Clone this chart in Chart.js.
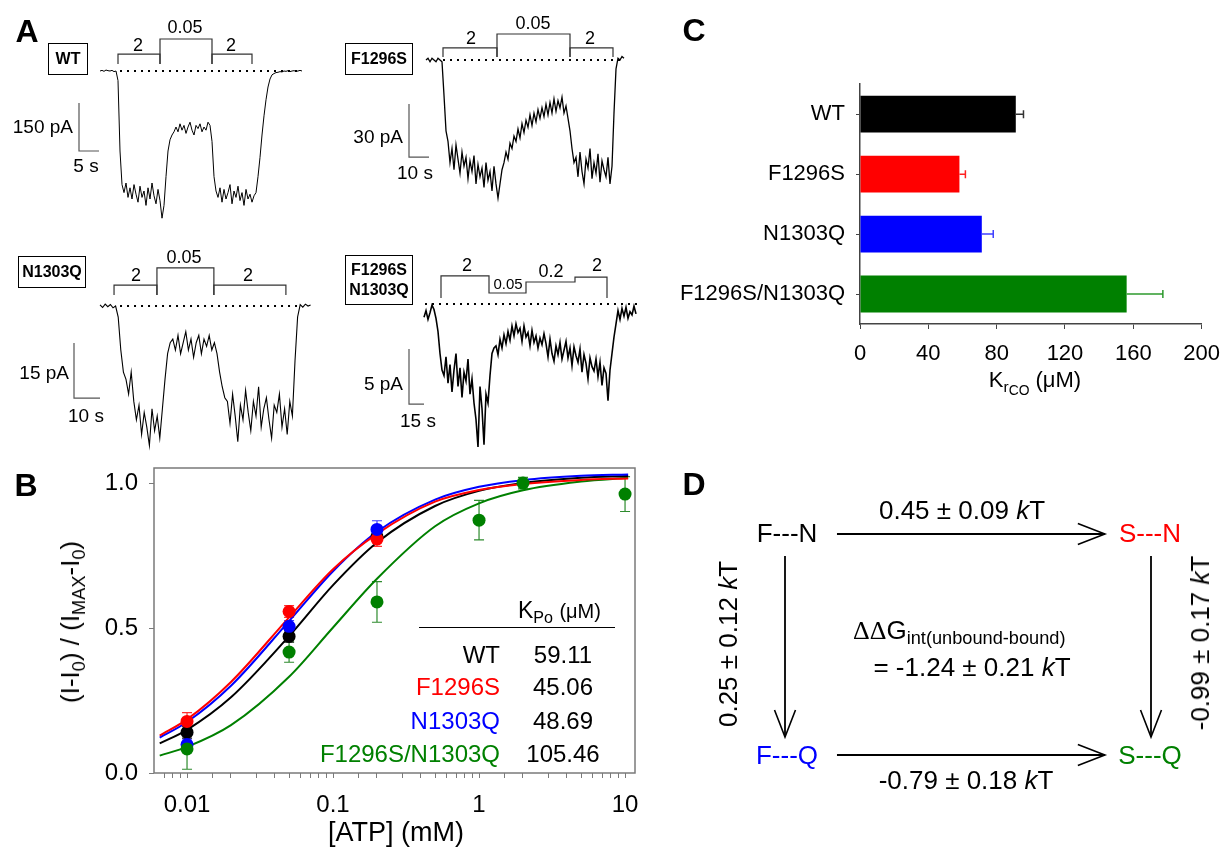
<!DOCTYPE html>
<html>
<head>
<meta charset="utf-8">
<title>CFTR F1296S / N1303Q</title>
<script src="https://cdn.jsdelivr.net/npm/chart.js@4.4.1/dist/chart.umd.min.js"></script>
<style>
  html, body { margin: 0; padding: 0; background: #fff; }
  #fig { position: relative; width: 1232px; height: 852px; overflow: hidden;
         font-family: "Liberation Sans", Arial, sans-serif; color: #000; }
  #fig canvas { position: absolute; }
  .t { position: absolute; white-space: nowrap; line-height: 1; }
  .sb { font-size: 0.7em; vertical-align: -0.32em; line-height: 0; }
  .sb2 { font-size: 0.9em; vertical-align: -0.2em; line-height: 0; }
  .box { position: absolute; box-sizing: border-box; border: 1.5px solid #000; display: flex;
         align-items: center; justify-content: center; text-align: center;
         font-weight: bold; font-size: 16px; line-height: 20px; }
  .letter { position: absolute; font-weight: bold; font-size: 32px; line-height: 1;
            transform: translate(-50%, -50%); }
</style>
</head>
<body>
<div id="fig">
  <canvas id="trWT" width="330" height="230" style="left:0;top:0"></canvas>
  <canvas id="trF" width="330" height="230" style="left:330px;top:0"></canvas>
  <canvas id="trN" width="330" height="230" style="left:0;top:230px"></canvas>
  <canvas id="trFN" width="330" height="230" style="left:330px;top:230px"></canvas>
  <canvas id="doseChart" width="660" height="412" style="left:0;top:440px"></canvas>
  <canvas id="kcoChart" width="572" height="340" style="left:660px;top:60px"></canvas>
  <canvas id="cycleChart" width="572" height="412" style="left:660px;top:440px"></canvas>
</div>
<script>
// ---------- panel A: current traces (pA), one sample every step seconds ----------
var traceWT = [0, 2, -1, 3, 1, 0, 2, -2, 0,
  -30, -250, -355,
  -380, -350, -395, -365, -400, -355, -385, -410, -360, -395, -375, -420, -365, -400, -350, -390, -415, -370, -405, -460, -420,
  -330, -250, -215, -200, -190,
  -175, -190, -165, -185, -170, -195, -175, -160, -185, -200, -170, -180, -165, -190, -175, -185, -160, -170,
  -220, -330, -375,
  -395, -365, -410, -370, -400, -380, -355, -415, -375, -395, -360, -405, -380, -420, -370, -400, -385, -410, -390,
  -380, -330, -270, -200, -140, -90, -50, -25, -12,
  -8, -5, -4, -2, -3, 0, -1, 1, -2, 0, 1, -1, 0, 2, 0];
var traceF1296S = [0, 1, -1, 1, 0, -1, 1, 0, -1,
  -20, -40,
  -46, -58, -50, -62, -48, -56, -64, -52, -60, -55, -67, -57, -63, -54, -70, -59, -66, -61, -72, -58, -68, -63, -74, -60, -70, -78,
  -70, -62, -58, -52, -56, -47, -50, -43, -46, -39, -44, -36, -41, -34, -38, -31, -37, -30, -35, -28, -33, -27, -32, -25, -31, -24, -30, -22, -29, -23, -27, -21, -30, -26, -33,
  -40, -50, -58,
  -55, -66, -52, -63, -70, -56, -61, -50, -67, -58, -64, -53, -69, -57, -62, -66, -55, -70, -60,
  -30, -5,
  1, 0, 2, 1];
var traceN1303Q = [0.3, -0.4, 0.5, -0.2, 0.4, -0.5, 0,
  -3, -12, -18,
  -20, -24, -18, -26,
  -31, -27, -35, -29, -33, -38, -28, -34, -30, -36,
  -28, -20, -13, -10,
  -9, -12, -8, -13, -10, -7, -12, -9, -14, -10, -8, -13, -9, -11, -8, -12, -10,
  -13, -18, -22, -25,
  -26, -32, -24, -30, -37, -27, -31, -23, -29, -34, -26, -30, -22, -33, -28, -25, -31, -36, -27, -29, -24, -33, -28, -35, -26, -30,
  -15, -3,
  0.4, -0.3, 0.5, 0, 0.3];
var traceDouble = [-1.2, -0.6, -1.4, -0.8, -0.1, -0.5, -1.3,
  -2.5, -4.5, -6.0,
  -6.5, -4.8, -7.2, -5.5, -8.0, -6.0, -4.5, -7.5, -5.8, -8.5, -6.2, -7.0, -5.0, -8.2, -6.8, -9.0, -10.5, -13.0, -7.5, -9.5, -12.8, -8.2, -9.0, -6.5,
  -4.5, -4.0,
  -3.8, -4.6, -3.2, -4.0, -2.8, -3.6, -2.5, -3.3, -2.0, -2.9, -1.8, -2.6,
  -2.2, -3.4, -2.0, -3.0, -2.6, -3.8, -2.4, -3.5, -2.9, -4.0, -3.1, -3.7, -2.7,
  -3.6, -4.8, -3.2, -4.5, -5.2, -3.8, -4.6, -3.5, -5.0, -4.2, -3.4, -4.9, -4.0, -5.6, -3.9, -4.7, -5.3, -4.1, -6.2, -4.6, -5.4, -6.8, -4.9, -5.7, -6.1, -5.0, -6.6, -5.3, -7.4, -5.8, -6.3, -8.8,
  -6.0, -4.5, -3.0, -1.8,
  -0.6, -1.4, -0.4, -1.1, -0.3, -1.3, -0.7, -1.0, -0.2, -0.9];
var stepWT = 0.5, stepF1296S = 1, stepN1303Q = 1, stepDouble = 2;

// ATP application brackets [s, pA] and zero-current dotted lines [from s, to s]
var bracketsWT = [[[4.5, 22], [4.5, 53], [15, 53], [15, 22]],
                  [[15, 22], [15, 100], [28, 100], [28, 22]],
                  [[28, 22], [28, 53], [38, 53], [38, 22]]];
var bracketsF1296S = [[[8.5, 1.7], [8.5, 6.8], [35.5, 6.8], [35.5, 1.7]],
                      [[35.5, 1.7], [35.5, 14.7], [72, 14.7], [72, 1.7]],
                      [[72, 1.7], [72, 6.8], [93.5, 6.8], [93.5, 1.7]]];
var bracketsN1303Q = [[[5.4, 3.0], [5.4, 5.7], [21.9, 5.7], [21.9, 3.0]],
                      [[21.9, 3.0], [21.9, 10.4], [43.8, 10.4], [43.8, 3.0]],
                      [[43.8, 3.0], [43.8, 5.7], [71.5, 5.7], [71.5, 3.0]]];
var bracketsDouble = [[[17, 0.55], [17, 2.55], [65, 2.55], [65, 1.0], [102, 1.0], [102, 2.0],
                       [151, 2.0], [151, 2.45], [183, 2.45], [183, 0.55]]];
var zeroWT = [5, 50.5], zeroF1296S = [8.5, 97], zeroN1303Q = [7.7, 77], zeroDouble = [1, 213];
// scale bars: 150 pA / 5 s, 30 pA / 10 s, 15 pA / 10 s, 5 pA / 15 s
var barWT = [[-5.25, -100], [-5.25, -250], [-0.25, -250]];
var barF1296S = [[-8.5, -24.9], [-8.5, -54.9], [1.5, -54.9]];
var barN1303Q = [[-10, -10.1], [-10, -25.1], [0, -25.1]];
var barDouble = [[-15, -4.1], [-15, -9.1], [0, -9.1]];

// ---------- panel B: normalized current vs [ATP] ----------
var atpConc = [0.01, 0.05, 0.2];
var atpConcDouble = [0.01, 0.05, 0.2, 1, 2, 10];
var respWT = [0.14, 0.471, 0.815];
var respF1296S = [0.178, 0.557, 0.807];
var respN1303Q = [0.098, 0.506, 0.84];
var respDouble = [0.083, 0.417, 0.59, 0.872, 1.0, 0.962];
var semWT = [0.02, 0.02, 0.02];
var semF1296S = [0.03, 0.02, 0.025];
var semN1303Q = [0.02, 0.02, 0.03];
var semDouble = [0.07, 0.035, 0.07, 0.068, 0.02, 0.06];
var fitConc = [0.0065, 0.01, 0.02, 0.05, 0.1, 0.2, 0.5, 1, 2, 5, 10.5];
var fitWT = [0.102, 0.149, 0.261, 0.472, 0.648, 0.795, 0.921, 0.973, 1.0, 1.018, 1.024];
var fitF1296S = [0.129, 0.185, 0.314, 0.537, 0.703, 0.825, 0.936, 0.976, 0.997, 1.011, 1.016];
var fitN1303Q = [0.122, 0.176, 0.301, 0.524, 0.696, 0.832, 0.943, 0.987, 1.01, 1.025, 1.03];
var fitDouble = [0.06, 0.09, 0.165, 0.332, 0.502, 0.67, 0.851, 0.93, 0.975, 1.005, 1.018];
var atpTicks = [0.01, 0.1, 1, 10];
var atpTickLabels = ['0.01', '0.1', '1', '10'];
var kpoNames = ['WT', 'F1296S', 'N1303Q', 'F1296S/N1303Q'];
var kpoValues = ['59.11', '45.06', '48.69', '105.46'];

// ---------- panel C: K_rCO ----------
var kcoLabels = ['WT', 'F1296S', 'N1303Q', 'F1296S/N1303Q'];
var kcoValues = [91.2, 58.2, 71.3, 156.1];
var kcoErrors = [4.5, 3.5, 6.7, 21.2];

var colBlack = '#000000', colRed = '#ff0000', colBlue = '#0000ff', colGreen = '#008000';

Chart.defaults.font.family = "'Liberation Sans', Arial, sans-serif";
Chart.defaults.color = '#000';
Chart.defaults.animation = false;
Chart.defaults.plugins.legend.display = false;
Chart.defaults.plugins.tooltip.enabled = false;

var fig = document.getElementById('fig');

function addText(html, x, y, size, anchor, opts) {
  var d = document.createElement('div');
  d.className = 't';
  d.innerHTML = html;
  d.style.left = x + 'px';
  d.style.top = y + 'px';
  d.style.fontSize = size + 'px';
  var tr = {c: 'translate(-50%,-50%)', l: 'translate(0,-50%)', r: 'translate(-100%,-50%)'}[anchor || 'c'];
  opts = opts || {};
  if (opts.rotate) tr += ' rotate(' + opts.rotate + 'deg)';
  if (opts.color) d.style.color = opts.color;
  d.style.transform = tr;
  fig.appendChild(d);
}

function addBox(html, x, y, w, h) {
  var d = document.createElement('div');
  d.className = 'box';
  d.innerHTML = html;
  d.style.left = x + 'px';
  d.style.top = y + 'px';
  d.style.width = w + 'px';
  d.style.height = h + 'px';
  fig.appendChild(d);
}

function toPts(arr) {
  return arr.map(function(p) { return {x: p[0], y: p[1]}; });
}

function lineSet(points, color, width, dash) {
  return {data: points, showLine: true, borderColor: color, borderWidth: width,
          borderDash: dash || [], pointRadius: 0, tension: 0, fill: false};
}

// geo: page position of t=0 / 0 pA, pixels per s and per pA, and canvas box
function traceChart(id, geo, values, step, zero, brackets, bar) {
  var pts = values.map(function(v, i) { return {x: i * step, y: v}; });
  var sets = [lineSet(pts, '#000', geo.lw)];
  sets.push(lineSet([{x: zero[0], y: 0}, {x: zero[1], y: 0}], '#000', 2, [2, 5]));
  brackets.forEach(function(b) { sets.push(lineSet(toPts(b), '#333', 1.2)); });
  sets.push(lineSet(toPts(bar), '#555', 1.2));
  new Chart(document.getElementById(id), {
    type: 'scatter',
    data: {datasets: sets},
    options: {
      responsive: false,
      events: [],
      layout: {padding: 0},
      scales: {
        x: {type: 'linear', display: false,
            min: (geo.left - geo.x0) / geo.pxS, max: (geo.left + geo.w - geo.x0) / geo.pxS},
        y: {type: 'linear', display: false,
            min: (geo.y0 - geo.top - geo.h) / geo.pxA, max: (geo.y0 - geo.top) / geo.pxA}
      }
    }
  });
}

traceChart('trWT', {x0: 100, y0: 71, pxS: 4, pxA: 0.32, left: 0, top: 0, w: 330, h: 230, lw: 1},
  traceWT, stepWT, zeroWT, bracketsWT, barWT);
traceChart('trF', {x0: 426, y0: 60, pxS: 2, pxA: 1.77, left: 330, top: 0, w: 330, h: 230, lw: 1.3},
  traceF1296S, stepF1296S, zeroF1296S, bracketsF1296S, barF1296S);
traceChart('trN', {x0: 100, y0: 306, pxS: 2.6, pxA: 3.67, left: 0, top: 230, w: 330, h: 230, lw: 1.1},
  traceN1303Q, stepN1303Q, zeroN1303Q, bracketsN1303Q, barN1303Q);
traceChart('trFN', {x0: 424, y0: 304, pxS: 1, pxA: 11, left: 330, top: 230, w: 330, h: 230, lw: 1.6},
  traceDouble, stepDouble, zeroDouble, bracketsDouble, barDouble);

// panel A text
addBox('WT', 48, 43, 40, 32);
addBox('F1296S', 345, 43, 68, 32);
addBox('N1303Q', 18, 256, 68, 32);
addBox('F1296S<br>N1303Q', 345, 255, 68, 50);
addText('2', 138, 45, 18); addText('0.05', 185, 27, 18); addText('2', 231, 45, 18);
addText('2', 471, 38, 18); addText('0.05', 533, 23, 18); addText('2', 590, 38, 18);
addText('2', 136, 275, 18); addText('0.05', 184, 257, 18); addText('2', 248, 275, 18);
addText('2', 467, 265, 18); addText('0.05', 508, 283, 15); addText('0.2', 551, 271, 18); addText('2', 597, 265, 18);
addText('150 pA', 73, 126, 19, 'r'); addText('5 s', 86, 165, 19);
addText('30 pA', 403, 136, 19, 'r'); addText('10 s', 415, 172, 19);
addText('15 pA', 69, 372, 19, 'r'); addText('10 s', 86, 415, 19);
addText('5 pA', 403, 383, 19, 'r'); addText('15 s', 418, 420, 19);

// ---------- panel B chart ----------
var B_XMIN = 0.00594, B_XMAX = 11.7;

function xyPairs(xs, ys) {
  return xs.map(function(x, i) { return {x: x, y: ys[i]}; });
}

function pointSet(xs, ys, sem, color, errColor) {
  return {data: xyPairs(xs, ys), showLine: false, pointRadius: 6.5, pointBorderWidth: 0,
          pointBackgroundColor: color, backgroundColor: color, borderColor: color,
          errors: sem, errorColor: errColor};
}

function fitSet(ys, color) {
  return {data: xyPairs(fitConc, ys), showLine: true, borderColor: color, borderWidth: 2,
          pointRadius: 0, cubicInterpolationMode: 'monotone', fill: false};
}

var errorBarPlugin = {
  id: 'errorBars',
  beforeDatasetsDraw: function(chart) {
    var ctx = chart.ctx;
    var ys = chart.scales.y;
    chart.data.datasets.forEach(function(ds, i) {
      if (!ds.errors) return;
      var meta = chart.getDatasetMeta(i);
      ctx.save();
      ctx.strokeStyle = ds.errorColor;
      ctx.lineWidth = 1.2;
      meta.data.forEach(function(pt, j) {
        var v = ds.data[j].y, e = ds.errors[j];
        var y1 = ys.getPixelForValue(v + e), y2 = ys.getPixelForValue(v - e);
        ctx.beginPath();
        ctx.moveTo(pt.x, y1); ctx.lineTo(pt.x, y2);
        ctx.moveTo(pt.x - 5, y1); ctx.lineTo(pt.x + 5, y1);
        ctx.moveTo(pt.x - 5, y2); ctx.lineTo(pt.x + 5, y2);
        ctx.stroke();
      });
      ctx.restore();
    });
  }
};

var framePlugin = {
  id: 'frame',
  beforeDatasetsDraw: function(chart) {
    var a = chart.chartArea, ctx = chart.ctx;
    ctx.save();
    ctx.strokeStyle = '#7a7a7a';
    ctx.lineWidth = 1.5;
    ctx.strokeRect(a.left, a.top, a.right - a.left, a.bottom - a.top);
    ctx.restore();
  }
};

new Chart(document.getElementById('doseChart'), {
  type: 'scatter',
  data: {datasets: [
    pointSet(atpConcDouble, respDouble, semDouble, colGreen, '#2e8b2e'),
    pointSet(atpConc, respN1303Q, semN1303Q, colBlue, '#3a3aff'),
    pointSet(atpConc, respF1296S, semF1296S, colRed, '#ff3030'),
    pointSet(atpConc, respWT, semWT, colBlack, '#333'),
    fitSet(fitF1296S, colRed),
    fitSet(fitN1303Q, colBlue),
    fitSet(fitWT, colBlack),
    fitSet(fitDouble, colGreen)
  ]},
  options: {
    responsive: false,
    events: [],
    layout: {padding: {top: 28, right: 25, left: 0, bottom: 0}},
    scales: {
      x: {
        type: 'logarithmic', min: B_XMIN, max: B_XMAX,
        afterFit: function(s) { s.height = 79; },
        border: {display: false},
        grid: {drawOnChartArea: false, drawTicks: true, tickLength: 5,
               tickColor: function(c) {
                 if (!c.tick) return '#7a7a7a';
                 return (c.tick.value === B_XMIN || c.tick.value === B_XMAX) ? 'rgba(0,0,0,0)' : '#7a7a7a';
               }},
        ticks: {
          autoSkip: false, maxRotation: 0, minRotation: 0, padding: 13, font: {size: 24},
          callback: function(v) {
            for (var i = 0; i < atpTicks.length; i++) {
              if (Math.abs(v - atpTicks[i]) < atpTicks[i] * 1e-6) return atpTickLabels[i];
            }
            return '';
          }
        }
      },
      y: {
        min: 0, max: 1.052,
        afterFit: function(s) { s.width = 154; },
        border: {display: false},
        grid: {drawOnChartArea: false, tickLength: 5, tickColor: '#7a7a7a'},
        ticks: {stepSize: 0.5, includeBounds: false, padding: 11, font: {size: 24},
                callback: function(v) { return v.toFixed(1); }}
      }
    }
  },
  plugins: [framePlugin, errorBarPlugin]
});

addText('(I-I<span class="sb">0</span>) / (I<span class="sb">MAX</span>-I<span class="sb">0</span>)', 70, 622, 26, 'c', {rotate: -90});
addText('[ATP] (mM)', 396, 832, 27);
addText('K<span class="sb">Po</span> <span style="font-size:20px">(μM)</span>', 518, 610, 23, 'l');
var rule = document.createElement('div');
rule.style.cssText = 'position:absolute;left:419px;top:627px;width:196px;height:0;border-top:1.5px solid #000;';
fig.appendChild(rule);
var kpoColors = [colBlack, colRed, colBlue, colGreen];
var kpoRowY = [655, 687, 721, 754];
kpoNames.forEach(function(n, i) {
  addText(n, 500, kpoRowY[i], 24, 'r', {color: kpoColors[i]});
  addText(kpoValues[i], 563, kpoRowY[i], 24, 'c');
});

// ---------- panel C chart ----------
var kcoColors = [colBlack, colRed, colBlue, colGreen];
var kcoErrColors = ['#333', '#ff2020', '#4040ff', '#2e9a2e'];

var barErrorPlugin = {
  id: 'barErrors',
  afterDatasetsDraw: function(chart) {
    var ctx = chart.ctx, xs = chart.scales.x;
    var meta = chart.getDatasetMeta(0);
    meta.data.forEach(function(bar, j) {
      var x0 = xs.getPixelForValue(kcoValues[j]);
      var x1 = xs.getPixelForValue(kcoValues[j] + kcoErrors[j]);
      ctx.save();
      ctx.strokeStyle = kcoErrColors[j];
      ctx.lineWidth = 1.5;
      ctx.beginPath();
      ctx.moveTo(x0, bar.y); ctx.lineTo(x1, bar.y);
      ctx.moveTo(x1, bar.y - 4); ctx.lineTo(x1, bar.y + 4);
      ctx.stroke();
      ctx.restore();
    });
  }
};

new Chart(document.getElementById('kcoChart'), {
  type: 'bar',
  data: {labels: kcoLabels, datasets: [{data: kcoValues, backgroundColor: kcoColors,
         borderWidth: 0, barPercentage: 0.615, categoryPercentage: 1}]},
  options: {
    indexAxis: 'y',
    responsive: false,
    events: [],
    layout: {padding: {top: 23, right: 21, left: 0, bottom: 0}},
    scales: {
      x: {
        min: 0, max: 200,
        afterFit: function(s) { s.height = 76; },
        border: {color: '#444', width: 1.5},
        grid: {drawOnChartArea: false, tickLength: 5, tickColor: '#444'},
        ticks: {stepSize: 40, padding: 12, font: {size: 22}, maxRotation: 0}
      },
      y: {
        afterFit: function(s) { s.width = 200; },
        border: {color: '#444', width: 1.5},
        grid: {drawOnChartArea: false, offset: false, tickLength: 4, tickColor: '#444'},
        ticks: {padding: 11, font: {size: 22}}
      }
    }
  },
  plugins: [barErrorPlugin]
});

addText('K<span class="sb">r<span class="sb2">CO</span></span> (μM)', 1035, 380, 22);

// ---------- panel D: thermodynamic cycle ----------
// node grid: column 0/1 and row 0/1; arrows run between nodes
var cycleArrows = [
  [[0.142, 0], [0.874, 0]],
  [[0.142, 1], [0.874, 1]],
  [[0, 0.1], [0, 0.919]],
  [[1, 0.1], [1, 0.919]]
];
var dGeo = {col0: 785, col1: 1151, row0: 534, row1: 755, left: 660, top: 440, w: 572, h: 412};

var arrowHeadPlugin = {
  id: 'arrowHeads',
  afterDatasetsDraw: function(chart) {
    var ctx = chart.ctx;
    chart.data.datasets.forEach(function(ds, i) {
      var pts = chart.getDatasetMeta(i).data;
      var a = pts[pts.length - 2], b = pts[pts.length - 1];
      var ang = Math.atan2(b.y - a.y, b.x - a.x);
      var len = 29, spread = 0.37;
      ctx.save();
      ctx.strokeStyle = '#000';
      ctx.lineWidth = 1.6;
      ctx.beginPath();
      ctx.moveTo(b.x - len * Math.cos(ang - spread), b.y - len * Math.sin(ang - spread));
      ctx.lineTo(b.x, b.y);
      ctx.lineTo(b.x - len * Math.cos(ang + spread), b.y - len * Math.sin(ang + spread));
      ctx.stroke();
      ctx.restore();
    });
  }
};

var colW = dGeo.col1 - dGeo.col0, rowH = dGeo.row1 - dGeo.row0;
new Chart(document.getElementById('cycleChart'), {
  type: 'scatter',
  data: {datasets: cycleArrows.map(function(a) { return lineSet(toPts(a), '#000', 1.8); })},
  options: {
    responsive: false,
    events: [],
    layout: {padding: 0},
    scales: {
      x: {type: 'linear', display: false,
          min: (dGeo.left - dGeo.col0) / colW, max: (dGeo.left + dGeo.w - dGeo.col0) / colW},
      y: {type: 'linear', display: false, reverse: true,
          min: (dGeo.top - dGeo.row0) / rowH, max: (dGeo.top + dGeo.h - dGeo.row0) / rowH}
    }
  },
  plugins: [arrowHeadPlugin]
});

addText('F---N', 787, 533, 26);
addText('S---N', 1150, 533, 26, 'c', {color: colRed});
addText('F---Q', 787, 755, 26, 'c', {color: colBlue});
addText('S---Q', 1150, 755, 26, 'c', {color: colGreen});
addText('0.45 ± 0.09 <i>k</i>T', 962, 510, 26);
addText('-0.79 ± 0.18 <i>k</i>T', 966, 780, 26);
addText('0.25 ± 0.12 <i>k</i>T', 728, 644, 26, 'c', {rotate: -90});
addText('-0.99 ± 0.17 <i>k</i>T', 1200, 643, 26, 'c', {rotate: -90});
addText('<span style="font-family:\'Liberation Serif\',serif">ΔΔ</span>G<span class="sb">int(unbound-bound)</span>', 853, 630, 26, 'l');
addText('= -1.24 ± 0.21 <i>k</i>T', 972, 667, 26);

// panel letters
[['A', 27, 31], ['B', 26, 485], ['C', 694, 30], ['D', 694, 484]].forEach(function(l) {
  var d = document.createElement('div');
  d.className = 'letter';
  d.textContent = l[0];
  d.style.left = l[1] + 'px';
  d.style.top = l[2] + 'px';
  fig.appendChild(d);
});
</script>
</body>
</html>
